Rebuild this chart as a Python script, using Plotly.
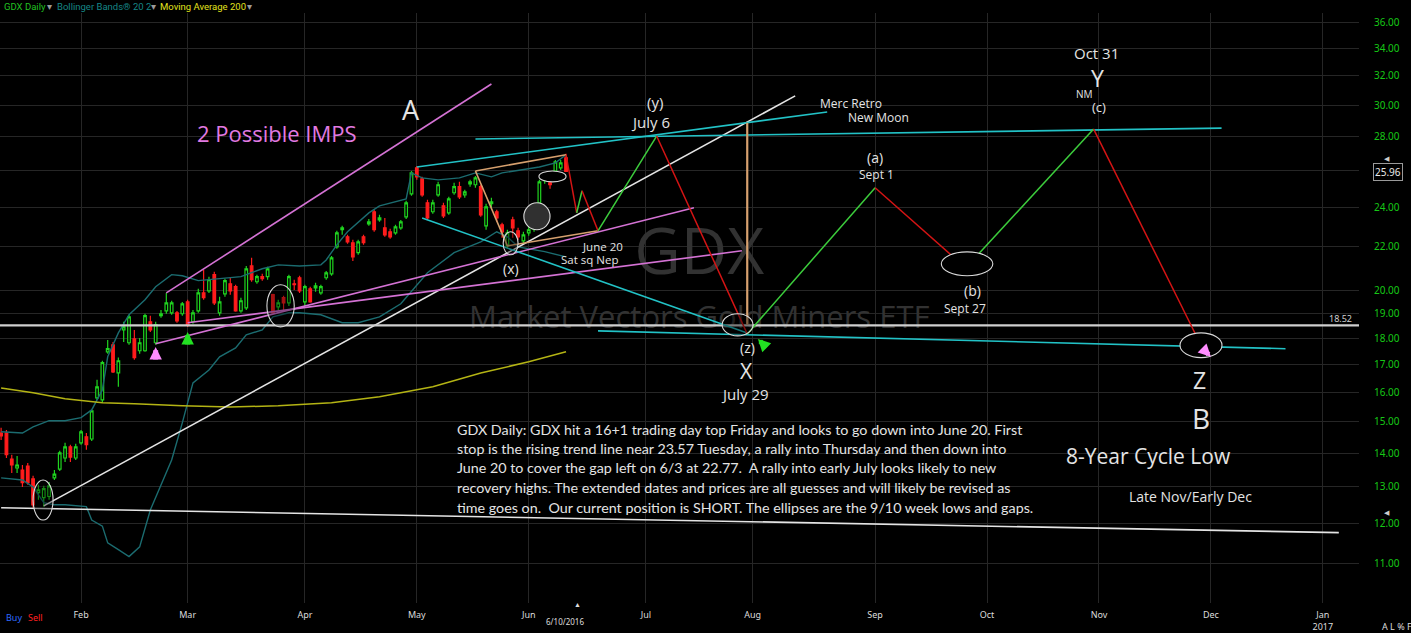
import numpy as np
import pandas as pd
import plotly.graph_objects as go

HOLIDAYS = ["2016-01-18", "2016-02-15", "2016-03-25", "2016-05-30", "2016-07-04",
            "2016-09-05", "2016-11-24", "2016-12-26", "2017-01-02"]

# GDX daily candles, 2016-01-08 .. 2016-06-10
opens = [14.63, 14.63, 13.82, 13.55, 13.49, 13.61, 13.23, 12.84, 12.70, 12.73,
         13.26, 13.52, 13.85, 14.19, 13.85, 14.32, 14.51, 14.44, 15.80, 15.73,
         17.48, 17.75, 16.69, 18.34, 17.83, 17.98, 17.52, 17.52, 18.67, 17.83,
         18.92, 19.12, 19.04, 19.04, 19.00, 19.50, 18.67, 19.12, 19.89, 19.98,
         20.70, 19.04, 19.85, 20.29, 20.16, 19.12, 19.25, 21.10, 20.38, 20.61,
         20.61, 19.81, 19.29, 19.68, 19.46, 20.29, 20.56, 19.50, 20.07, 20.11,
         19.89, 20.56, 20.74, 22.00, 22.84, 22.49, 22.20, 21.72, 22.49, 23.14,
         23.76, 23.34, 22.94, 22.74, 22.69, 22.94, 23.50, 24.71, 26.16, 25.54,
         24.23, 23.76, 24.66, 24.07, 23.70, 24.77, 25.10, 24.66, 25.26, 25.21,
         25.10, 23.04, 24.18, 23.76, 23.09, 22.05, 23.34, 22.79, 22.29, 22.69,
         22.89, 24.23, 25.43, 25.32, 25.98, 26.16, 26.74]
highs = [14.80, 14.73, 13.95, 13.91, 13.64, 13.70, 13.32, 13.06, 13.03, 13.14,
         13.49, 14.07, 14.32, 14.26, 14.29, 14.73, 14.63, 15.39, 16.44, 17.14,
         17.94, 17.86, 17.26, 18.67, 18.96, 18.34, 18.02, 19.00, 18.92, 18.67,
         19.16, 19.89, 19.55, 19.12, 19.50, 19.59, 19.16, 20.07, 20.92, 20.61,
         20.83, 19.72, 20.52, 20.56, 20.25, 19.68, 21.10, 21.48, 20.70, 20.74,
         21.06, 19.85, 19.59, 19.76, 20.70, 20.47, 20.65, 20.25, 20.16, 20.34,
         20.25, 20.87, 21.57, 22.79, 23.04, 22.59, 22.34, 22.34, 22.59, 23.39,
         23.91, 23.60, 23.44, 22.89, 23.09, 23.34, 24.34, 25.98, 26.27, 25.65,
         24.39, 24.39, 25.37, 24.23, 24.55, 25.32, 25.37, 24.93, 25.48, 25.70,
         25.21, 24.18, 24.50, 23.86, 23.19, 22.84, 23.50, 22.94, 22.74, 23.04,
         23.24, 25.48, 25.70, 25.43, 26.62, 26.62, 26.98]
lows = [14.41, 13.85, 13.40, 13.40, 13.00, 13.06, 12.42, 12.64, 12.45, 12.64,
        13.20, 13.46, 13.73, 13.73, 13.79, 14.26, 14.10, 14.38, 15.73, 15.63,
        17.41, 16.69, 16.19, 17.86, 17.75, 17.18, 17.41, 17.48, 18.26, 17.75,
        18.83, 19.00, 18.96, 18.63, 18.92, 18.46, 18.59, 19.04, 19.59, 19.89,
        19.37, 18.92, 19.72, 19.81, 19.08, 19.04, 19.16, 20.38, 20.29, 20.43,
        20.47, 19.00, 19.16, 19.08, 19.33, 20.02, 19.89, 19.33, 19.46, 19.94,
        19.81, 20.47, 20.65, 21.91, 22.59, 22.15, 21.33, 21.62, 22.10, 23.04,
        22.74, 23.24, 22.49, 22.39, 22.59, 22.84, 23.39, 24.61, 25.48, 24.55,
        23.34, 23.65, 24.55, 23.44, 23.60, 24.66, 24.44, 24.50, 25.10, 25.04,
        23.50, 22.84, 23.97, 23.24, 22.44, 21.91, 22.44, 22.34, 22.15, 22.54,
        22.74, 24.12, 25.26, 24.99, 25.87, 26.04, 25.93]
closes = [14.54, 13.95, 13.64, 13.64, 13.12, 13.12, 12.50, 12.92, 12.95, 13.03,
          13.37, 14.01, 14.19, 13.88, 14.19, 14.67, 14.26, 15.36, 16.19, 17.07,
          17.60, 16.73, 17.14, 18.46, 18.87, 17.26, 17.83, 18.92, 18.34, 18.55,
          19.00, 19.46, 19.46, 18.71, 19.42, 18.55, 19.04, 19.89, 19.68, 20.47,
          19.46, 19.50, 20.43, 19.98, 19.12, 19.55, 20.96, 20.47, 20.61, 20.52,
          20.96, 19.04, 19.46, 19.46, 20.61, 20.25, 19.98, 20.16, 19.50, 20.20,
          20.16, 20.78, 21.48, 22.69, 22.94, 22.24, 21.52, 22.24, 22.20, 23.24,
          22.84, 23.44, 22.59, 22.49, 22.99, 23.24, 24.23, 25.87, 25.65, 24.66,
          23.44, 24.23, 25.21, 23.55, 24.44, 25.10, 24.55, 24.82, 25.37, 25.59,
          23.60, 24.02, 24.28, 23.44, 22.74, 22.69, 22.94, 22.49, 22.59, 22.84,
          22.99, 25.37, 25.59, 25.21, 26.50, 26.45, 25.96]

# Bollinger Bands 20 2 and 200-day average, sampled at candle positions
bb_upper_idx = [0, 4, 6, 9, 12, 15, 17, 19, 20, 22, 24, 27, 29, 32, 34, 37, 41, 45, 49, 52,
                56, 60, 61, 63, 65, 67, 69, 71, 74, 76, 77, 79, 82, 86, 89, 92, 94, 98, 101,
                104, 106]
bb_upper = [14.67, 14.63, 14.83, 15.03, 15.03, 15.13, 15.39, 16.08, 17.29, 18.22, 18.96,
            19.59, 20.16, 20.70, 20.65, 20.43, 20.52, 20.61, 20.97, 21.15, 21.10, 21.15,
            21.38, 22.10, 22.74, 23.19, 23.70, 24.07, 24.28, 24.44, 25.87, 25.59, 25.48,
            25.59, 25.87, 25.65, 25.87, 26.04, 26.21, 26.45, 26.92]
bb_lower_idx = [0, 4, 6, 8, 10, 12, 16, 17, 19, 20, 22, 24, 26, 28, 32, 34, 36, 39, 41, 44,
                46, 49, 51, 54, 56, 60, 64, 67, 71, 75, 80, 85, 90, 93, 95, 97, 102, 106]
bb_lower = [13.26, 13.20, 13.00, 12.56, 12.50, 12.50, 12.45, 12.09, 11.93, 11.50, 11.33,
            11.16, 11.40, 12.36, 13.79, 14.96, 16.33, 16.80, 17.29, 17.63, 18.14, 18.34,
            18.87, 19.04, 19.04, 18.96, 18.63, 18.63, 18.87, 19.42, 20.79, 21.72, 22.24,
            22.74, 22.49, 22.00, 21.77, 21.52]
ma200_idx = [0, 6, 12, 19, 25, 34, 43, 52, 62, 71, 81, 90, 99, 106]
ma200 = [16.15, 15.98, 15.77, 15.63, 15.60, 15.53, 15.49, 15.53, 15.63, 15.84, 16.19,
         16.69, 17.10, 17.48]

# projected wave path
wave_dates = ["2016-06-10", "2016-06-14", "2016-06-15", "2016-06-20", "2016-07-06",
              "2016-07-29", "2016-09-01", "2016-09-27", "2016-10-31", "2016-11-29"]
wave_prices = [26.92, 23.70, 24.88, 22.79, 28.05, 18.18, 25.04, 21.01, 28.48, 17.79]

month_ticks = ["2016-02-01", "2016-03-01", "2016-04-01", "2016-05-02", "2016-06-01",
               "2016-07-01", "2016-08-01", "2016-09-01", "2016-10-03", "2016-11-01",
               "2016-12-01", "2017-01-03"]
month_labels = ["Feb", "Mar", "Apr", "May", "Jun", "Jul", "Aug", "Sep", "Oct", "Nov",
                "Dec", "Jan<br>2017"]
price_ticks = [11, 12, 13, 14, 15, 16, 17, 18, 19, 20, 22, 24, 26, 28, 30, 32, 34, 36]
price_labels = ["" if v == 26 else "%.2f" % v for v in price_ticks]
last_price = 25.96
level = 18.52

days = pd.bdate_range("2016-01-08", "2016-06-10", freq="C", holidays=HOLIDAYS)

WHITE = "#e4e4e4"
PINK = "#d472d4"
CYAN = "#22c2c6"
TAN = "#d6a06e"
RED = "#d41414"
GREEN = "#3ccd3c"

# hand drawn trend lines: colour, width, points
drawings = [
    (WHITE, 1.6, [("2016-01-21", 12.47), ("2016-08-11", 30.63)]),
    (WHITE, 1.6, [("2016-01-08", 12.42), ("2017-01-06", 11.76)]),
    ("#cfcfcf", 2.2, [("2016-01-07", level), ("2017-01-12", level)]),
    (PINK, 1.6, [("2016-02-24", 19.89), ("2016-05-20", 31.44)]),
    (PINK, 1.6, [("2016-02-22", 17.79), ("2016-07-15", 23.97)]),
    (PINK, 1.6, [("2016-03-01", 18.63), ("2016-07-28", 21.81)]),
    (CYAN, 1.6, [("2016-05-02", 26.21), ("2016-08-19", 29.57)]),
    (CYAN, 1.6, [("2016-05-17", 27.87), ("2016-12-05", 28.54)]),
    (CYAN, 1.6, [("2016-05-03", 23.44), ("2016-07-29", 18.22)]),
    (CYAN, 1.6, [("2016-06-20", 18.30), ("2016-12-21", 17.60)]),
    (TAN, 1.6, [("2016-05-17", 25.98), ("2016-06-10", 26.92)]),
    (TAN, 1.6, [("2016-05-17", 25.98), ("2016-05-25", 22.05), ("2016-06-20", 22.79)]),
    (TAN, 2.2, [("2016-07-29", 28.88), ("2016-07-29", 18.55)]),
]

# ellipses: left date, right date, top price, bottom price, fill
ellipses = [
    ("2016-01-19 00:00", "2016-01-22 18:00", 13.20, 12.09, "rgba(0,0,0,0.35)"),
    ("2016-03-21 21:00", "2016-03-30 00:00", 20.25, 18.46, "rgba(0,0,0,0.35)"),
    ("2016-05-24 05:00", "2016-05-27 00:00", 22.74, 21.62, "rgba(0,0,0,0.35)"),
    ("2016-05-31 02:00", "2016-06-07 00:00", 24.23, 22.84, "#303030"),
    ("2016-06-02 22:00", "2016-06-10 00:00", 25.98, 25.37, "#000000"),
    ("2016-07-22 07:00", "2016-08-01 02:00", 19.00, 18.10, "rgba(0,0,0,0.4)"),
    ("2016-09-20 10:00", "2016-10-04 02:00", 21.76, 20.65, "#000000"),
    ("2016-11-22 05:00", "2016-12-05 02:00", 18.22, 17.26, "#000000"),
]

fig = go.Figure()

# watermark sits under everything
fig.add_trace(go.Scatter(
    x=["2016-07-18", "2016-07-18"], y=[21.48, 18.75], mode="text",
    text=["GDX", "Market Vectors Gold Miners ETF"],
    textfont=dict(family="Open Sans", size=[64, 31], color="#323232"),
    hoverinfo="skip", showlegend=False))

fig.add_trace(go.Scatter(x=days[bb_upper_idx], y=bb_upper, mode="lines",
                         line=dict(color="#1b6c70", width=1.4), showlegend=False))
fig.add_trace(go.Scatter(x=days[bb_lower_idx], y=bb_lower, mode="lines",
                         line=dict(color="#1b6c70", width=1.4), showlegend=False))
fig.add_trace(go.Scatter(x=days[ma200_idx], y=ma200, mode="lines",
                         line=dict(color="#b4b414", width=1.5), showlegend=False))

fig.add_trace(go.Candlestick(
    x=days, open=opens, high=highs, low=lows, close=closes,
    increasing=dict(line=dict(color="#1fd41f", width=1.2), fillcolor="#000000"),
    decreasing=dict(line=dict(color="#ff1c1c", width=1.2), fillcolor="#ff1c1c"),
    whiskerwidth=0, showlegend=False))

for color, width, pts in drawings:
    fig.add_trace(go.Scatter(x=[p[0] for p in pts], y=[p[1] for p in pts], mode="lines",
                             line=dict(color=color, width=width), hoverinfo="skip",
                             showlegend=False))

for i in range(len(wave_dates) - 1):
    up = wave_prices[i + 1] > wave_prices[i]
    fig.add_trace(go.Scatter(x=wave_dates[i:i + 2], y=wave_prices[i:i + 2], mode="lines",
                             line=dict(color=GREEN if up else RED, width=1.5),
                             hoverinfo="skip", showlegend=False))

shapes = []
for d0, d1, p0, p1, fill in ellipses:
    shapes.append(dict(type="circle", xref="x", yref="y", x0=d0, x1=d1, y0=p0, y1=p1,
                       opacity=1, line=dict(color="#d8d8d8", width=1.1), fillcolor=fill))

# plot area in page pixels, used to place the free text
W, TOP, BOT = 1359, 13, 603


def paper(px, py):
    return px / W, (BOT - py) / (BOT - TOP)


labels = [
    ("A", 411, 110, 27, WHITE),
    ("2 Possible IMPS", 277, 133, 22, "#e27ae2"),
    ("(y)", 655, 102, 15, WHITE),
    ("July 6", 650, 122, 15, WHITE),
    ("Merc Retro", 851, 103, 12, WHITE),
    ("New Moon", 878, 118, 12, WHITE),
    ("(a)", 875, 157, 14, WHITE),
    ("Sept 1", 876, 174, 12, WHITE),
    ("Oct 31", 1096, 53, 15, WHITE),
    ("Y", 1097, 78, 23, WHITE),
    ("NM", 1084, 94, 10, WHITE),
    ("(c)", 1099, 107, 13, WHITE),
    ("June 20", 602, 246, 11.5, WHITE),
    ("Sat sq Nep", 589, 259, 11.5, WHITE),
    ("(x)", 511, 268, 14, WHITE),
    ("(b)", 972, 290, 14, WHITE),
    ("Sept 27", 965, 308, 12, WHITE),
    ("(z)", 747, 347, 14, WHITE),
    ("X", 746, 371, 21, WHITE),
    ("July 29", 745, 394, 15, WHITE),
    ("Z", 1199, 380, 23, WHITE),
    ("B", 1201, 418, 28, WHITE),
    ("8-Year Cycle Low", 1148, 456, 21, WHITE),
    ("Late Nov/Early Dec", 1190, 497, 14, WHITE),
]

note = [
    "GDX Daily: GDX hit a 16+1 trading day top Friday and looks to go down into June 20. First",
    "stop is the rising trend line near 23.57 Tuesday, a rally into Thursday and then down into",
    "June 20 to cover the gap left on 6/3 at 22.77.  A rally into early July looks likely to new",
    "recovery highs. The extended dates and prices are all guesses and will likely be revised as",
    "time goes on.  Our current position is SHORT. The ellipses are the 9/10 week lows and gaps.",
]

annotations = []


def add_text(text, px, py, size, color, family="Open Sans", anchor="center", **extra):
    x, y = paper(px, py)
    annotations.append(dict(text=text, x=x, y=y, xref="paper", yref="paper",
                            xanchor=anchor, yanchor="middle", showarrow=False,
                            font=dict(family=family, size=size, color=color), **extra))


for text, px, py, size, color in labels:
    add_text(text, px, py, size, color)

for k, line in enumerate(note):
    add_text(line, 455, 429 + 19.5 * k, 14.3, WHITE, family="Lato", anchor="left")

# chart header
header = [("GDX Daily", 2, "#21c221"), ("\u25be", 45, "#9a9a9a"),
          ("Bollinger Bands\u00ae 20 2", 55, "#168686"), ("\u25be", 149, "#9a9a9a"),
          ("Moving Average 200", 158, "#e2e21c"), ("\u25be", 245, "#9a9a9a")]
for text, px, color in header:
    add_text(text, px, 7, 9.5, color, family="Roboto", anchor="left")

# bits of chart furniture along the axes
furniture = [
    ("Buy", 4, 617, 9, "#2f6bff", "left"),
    ("Sell", 26, 617, 9, "#ff2020", "left"),
    ("6/10/2016", 565, 621, 8, "#dddddd", "center"),
    ("\u25b2", 577, 604, 7, "#dddddd", "center"),
    ("%.2f" % level, 1340, 318, 9, "#d0d0d0", "center"),
    ("\u25c0", 1387, 158, 7, "#cccccc", "center"),
    ("\u25c0", 1387, 512, 7, "#cccccc", "center"),
    ("A L % F", 1397, 626, 9, "#dddddd", "center"),
]
for text, px, py, size, color, anchor in furniture:
    add_text(text, px, py, size, color, family="Noto Sans", anchor=anchor)

add_text("%.2f" % last_price, 1388, 172, 10, "#e8e8e8", family="Noto Sans",
         bordercolor="#9a9a9a", borderwidth=1, borderpad=1, bgcolor="#000000")

# block arrows: tip date, tip price, tail offset px, colour
arrows = [
    ("2016-02-22", 17.67, 0, 14, "#ff8cff"),
    ("2016-03-01", 18.26, 0, 14, "#22e022"),
    ("2016-08-02", 17.98, 10, 10, "#22e022"),
    ("2016-12-01", 17.29, -10, -10, "#ff8cff"),
]
for d, p, ax, ay, color in arrows:
    annotations.append(dict(x=d, y=np.log10(p), xref="x", yref="y", text="", showarrow=True,
                            ax=ax, ay=ay, arrowhead=2, arrowsize=0.5, arrowwidth=5,
                            arrowcolor=color, standoff=0))

fig.update_layout(
    width=1411, height=633,
    margin=dict(l=0, r=1411 - W, t=TOP, b=633 - BOT),
    paper_bgcolor="#000000", plot_bgcolor="#000000",
    showlegend=False, shapes=shapes, annotations=annotations,
    xaxis=dict(
        type="date", range=["2016-01-07 19:00", "2017-01-11 19:00"],
        rangebreaks=[dict(bounds=["sat", "mon"]), dict(values=HOLIDAYS)],
        rangeslider=dict(visible=False),
        tickvals=month_ticks, ticktext=month_labels,
        tickfont=dict(family="Noto Sans", size=9, color="#dcdcdc"),
        ticklabelstandoff=5,
        showgrid=True, gridcolor="#262626", gridwidth=1, zeroline=False, showline=False,
        ticks="", fixedrange=True),
    yaxis=dict(
        type="log", side="right",
        range=[np.log10(10.08), np.log10(36.73)],
        tickvals=price_ticks, ticktext=price_labels,
        tickfont=dict(family="Noto Sans", size=10, color="#16c816"),
        ticklabelstandoff=14,
        showgrid=True, gridcolor="#262626", gridwidth=1, zeroline=False, showline=False,
        ticks="", fixedrange=True),
)

fig.write_html("out.html", config={"displayModeBar": False},
               post_script="document.body.style.margin='0';")
